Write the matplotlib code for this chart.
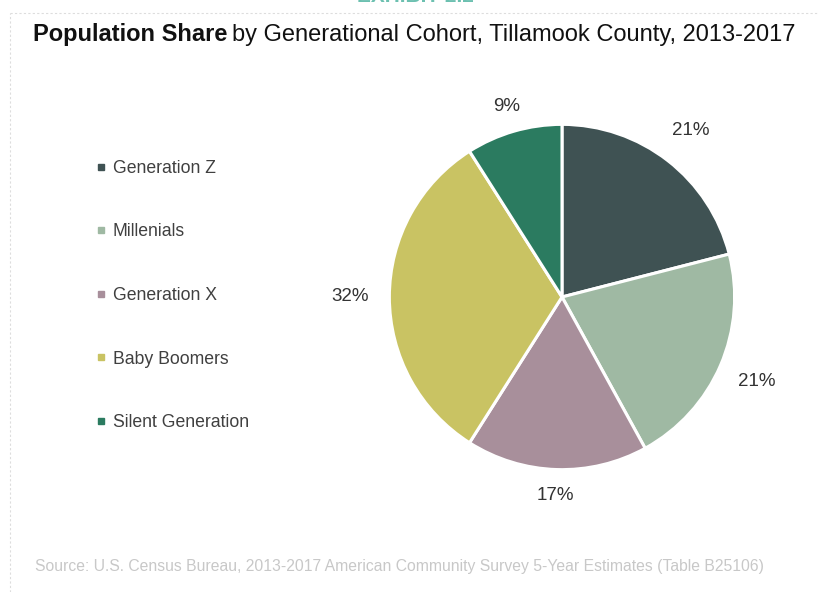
import numpy as np
import matplotlib.pyplot as plt
from matplotlib.lines import Line2D

plt.rcParams['font.family'] = ['Liberation Sans', 'DejaVu Sans']

# Generational shares (percent), clockwise from 12 o'clock
cohorts = ['Generation Z', 'Millenials', 'Generation X', 'Baby Boomers', 'Silent Generation']
shares = [21, 21, 17, 32, 9]
colors = ['#3f5253', '#9fb9a3', '#a88f9b', '#c9c363', '#2b7b60']
# how far each percent label sits from the centre, in radii
label_dist = [1.22, 1.23, 1.15, 1.23, 1.15]

fig = plt.figure(figsize=(8.18, 5.92), dpi=100)
fig.patch.set_facecolor('white')

# Pie axes (square, centered around x=562px, y=297px)
ax = fig.add_axes([562 / 818 - 0.26, 1 - 297 / 592 - 0.36, 0.52, 0.72])
wedges, _ = ax.pie(
    shares, colors=colors, startangle=90, counterclock=False,
    wedgeprops=dict(edgecolor='white', linewidth=2.2),
    radius=1.0,
)
for w, s, d in zip(wedges, shares, label_dist):
    mid = np.deg2rad((w.theta1 + w.theta2) / 2)
    ax.text(d * np.cos(mid), d * np.sin(mid), f'{s}%', fontsize=13.5,
            color='#333333', ha='center', va='center')
ax.set_aspect('equal')
ax.set_xlim(-1.232, 1.232)
ax.set_ylim(-1.232, 1.232)

# Legend on the left
handles = [Line2D([0], [0], marker='s', linestyle='none', markersize=5,
                  markerfacecolor=c, markeredgecolor=c) for c in colors]
fig.legend(handles, cohorts, loc='upper left', bbox_to_anchor=(80 / 818, 1 - 144 / 592),
           frameon=False, fontsize=12.7, labelcolor='#404040', labelspacing=2.64,
           handlelength=0.6, handletextpad=0.35)

# Title: bold lead-in followed by regular text
t1 = fig.text(33 / 818, 1 - 35 / 592, 'Population Share', fontsize=17, fontweight='bold',
              color='#111111', va='center', ha='left')
fig.canvas.draw()
bb = t1.get_window_extent()
fig.text(bb.x1 / 818 + 5 / 818, 1 - 35 / 592,
         'by Generational Cohort, Tillamook County, 2013-2017',
         fontsize=17, color='#111111', va='center', ha='left')

# Exhibit heading, cut off at the top edge
fig.text(415 / 818, 1 + 4 / 592, 'EXHIBIT 2.2', fontsize=15, color='#6cc0b0',
         fontweight='bold', ha='center', va='center')

# Faint dotted frame
fig.add_artist(Line2D([10 / 818, 10 / 818], [0.0, 1 - 13 / 592], transform=fig.transFigure,
                      color='#dddddd', linewidth=0.8, linestyle=(0, (2, 2))))
fig.add_artist(Line2D([10 / 818, 1.0], [1 - 13 / 592, 1 - 13 / 592], transform=fig.transFigure,
                      color='#dddddd', linewidth=0.8, linestyle=(0, (2, 2))))

# Source note
fig.text(35 / 818, 1 - 567 / 592,
         'Source: U.S. Census Bureau, 2013-2017 American Community Survey 5-Year Estimates (Table B25106)',
         fontsize=11.3, color='#c8c8c8', ha='left', va='center')

fig.savefig('out.png', dpi=100, facecolor='white')
